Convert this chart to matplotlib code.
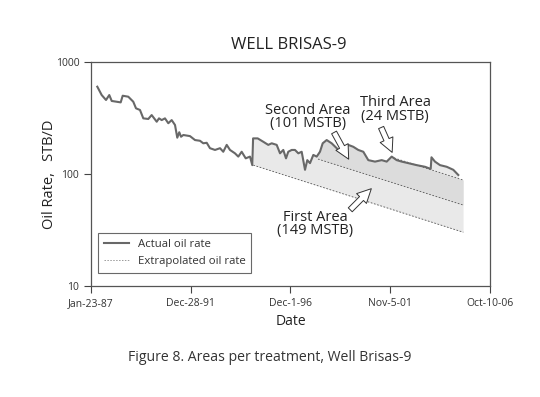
import numpy as np
import pandas as pd
import matplotlib
matplotlib.use('Agg')
from matplotlib import pyplot as plt
from matplotlib.ticker import FixedLocator, NullLocator, FixedFormatter

plt.rcParams['font.family'] = ['Open Sans', 'DejaVu Sans']

start = pd.Timestamp('1987-01-23')

# actual oil rate, days since Jan-23-87 and STB/D
day = [114, 193, 271, 330, 374, 536, 572, 673, 763, 812, 884, 944, 1034, 1095,
       1186, 1227, 1276, 1335, 1395, 1456, 1516, 1557, 1593, 1625, 1666, 1786,
       1877, 1967, 2026, 2088, 2147, 2238, 2328, 2387, 2449, 2508, 2598, 2658,
       2719, 2792, 2869, 2911, 2925, 3008, 3109, 3199, 3261, 3351, 3411, 3470,
       3519, 3560, 3622, 3681, 3741, 3802, 3862, 3903, 3952, 4012, 4073, 4132,
       4181, 4253, 4343, 4434, 4524, 4643, 4733, 4823, 4914, 5004, 5125, 5246,
       5336, 5426, 5516, 5607, 5726, 5877, 6027, 6130, 6144, 6207, 6298, 6419,
       6538, 6628]
rate = [602, 507, 458, 507, 449, 436, 500, 490, 442, 386, 373, 314, 310, 336,
        293, 314, 303, 314, 284, 303, 274, 211, 236, 215, 223, 218,
        201, 198, 188, 190, 170, 164, 170, 158, 182, 164, 153, 143,
        158, 138, 143, 120, 208, 208, 194, 182, 188, 182, 153, 164,
        138, 158, 164, 164, 153, 158, 109, 133, 125, 148, 143, 158,
        188, 201, 188, 170, 153, 182, 175, 164, 158, 133, 129, 133,
        129, 143, 133, 129, 125, 120, 116, 111, 141, 129, 120, 116,
        109, 98]

# extrapolated declines (start / end)
ext1_day = [2929, 6718]
ext1_rate = [120, 30.2]
ext2_day = [4096, 6713]
ext2_rate = [136, 52.9]
ext3_day = [5414, 6713]
ext3_rate = [142, 88.4]

tick_days = [0, 1800, 3600, 5400, 7200]
tick_labels = ['Jan-23-87', 'Dec-28-91', 'Dec-1-96', 'Nov-5-01', 'Oct-10-06']


def to_date(d):
    return start + pd.to_timedelta(np.asarray(d, dtype=float), unit='D')


def log_interp(x, xp, fp):
    return 10 ** np.interp(x, xp, np.log10(fp))


def log_line(x, xp, fp):
    slope = (np.log10(fp[1]) - np.log10(fp[0])) / (xp[1] - xp[0])
    return 10 ** (np.log10(fp[0]) + slope * (np.asarray(x) - xp[0]))


fig = plt.figure(figsize=(5.4, 3.97), dpi=100)
ax = fig.add_axes([0.1685, 0.2796, 0.7389, 0.5642])

# shaded areas
g = np.arange(ext1_day[0], ext1_day[1] + 1, 5)
actual_g = log_interp(g, day, rate)
top3 = log_line(g, ext3_day, ext3_rate)
upper = np.where(g > day[-1], top3, actual_g)
ax.fill_between(to_date(g), log_line(g, ext1_day, ext1_rate), upper,
                color='#e9e9e9', lw=0)
g2 = g[g >= ext2_day[0]]
up2 = np.where(g2 >= ext3_day[0], log_line(g2, ext3_day, ext3_rate),
               log_interp(g2, day, rate))
ax.fill_between(to_date(g2), log_line(g2, ext2_day, ext2_rate), up2,
                color='#dcdcdc', lw=0)

for xd, yr in [(ext1_day, ext1_rate), (ext2_day, ext2_rate), (ext3_day, ext3_rate)]:
    ax.plot(to_date(xd), yr, color='#555555', lw=0.6, ls=(0, (2, 2)))

ax.plot(to_date(day), rate, color='#686868', lw=1.5, label='Actual oil rate')
ax.plot([], [], color='#999999', lw=0.7, ls=(0, (1.5, 1.5)), label='Extrapolated oil rate')

ax.set_yscale('log')
ax.set_ylim(10, 1000)
ax.set_xlim(to_date([0])[0], to_date([7200])[0])
ax.yaxis.set_major_locator(FixedLocator([10, 100, 1000]))
ax.yaxis.set_major_formatter(FixedFormatter(['10', '100', '1000']))
ax.yaxis.set_minor_locator(NullLocator())
ax.set_xticks(to_date(tick_days))
ax.set_xticklabels(tick_labels)
ax.xaxis.set_minor_locator(NullLocator())
ax.tick_params(direction='out', length=5, width=0.8, colors='#444444',
               labelsize=7.5, labelcolor='#333333')
for s in ax.spines.values():
    s.set_color('#555555')
    s.set_linewidth(0.9)

ax.set_xlabel('Date', fontsize=10, color='#222222', labelpad=4)
ax.set_ylabel('Oil Rate,   STB/D', fontsize=10.5, color='#222222', labelpad=-1)
fig.text(0.535, 0.887, 'WELL BRISAS-9', ha='center', va='center', fontsize=12, color='#222222')

# area labels and hollow arrows
arrow = dict(arrowstyle='simple,head_length=1.0,head_width=1.0,tail_width=0.4',
             fc='white', ec='#333333', lw=0.7)
ax.annotate('', xy=(to_date([4674])[0], 129), xytext=(to_date([4362])[0], 247), arrowprops=arrow)
ax.annotate('', xy=(to_date([5455])[0], 148), xytext=(to_date([5215])[0], 274), arrowprops=arrow)
ax.annotate('', xy=(to_date([5094])[0], 77), xytext=(to_date([4643])[0], 46), arrowprops=arrow)
ax.text(to_date([3916])[0], 323, 'Second Area\n(101 MSTB)', ha='center', va='center',
        fontsize=10.5, linespacing=0.9, color='#222222')
ax.text(to_date([5486])[0], 380, 'Third Area\n(24 MSTB)', ha='center', va='center',
        fontsize=10.5, linespacing=0.9, color='#222222')
ax.text(to_date([4042])[0], 35.8, 'First Area\n(149 MSTB)', ha='center', va='center',
        fontsize=10.5, linespacing=0.9, color='#222222')

leg = ax.legend(loc='lower left', bbox_to_anchor=(0.018, 0.059), borderaxespad=0,
                fontsize=8.2, fancybox=False, edgecolor='#444444', handlelength=2.2,
                borderpad=0.5, labelspacing=0.55)
leg.get_frame().set_linewidth(0.8)
for t in leg.get_texts():
    t.set_color('#333333')

fig.text(0.5, 0.1, 'Figure 8. Areas per treatment, Well Brisas-9', ha='center', va='center',
         fontsize=10.1, color='#333333')

fig.savefig('out.png', dpi=100)
